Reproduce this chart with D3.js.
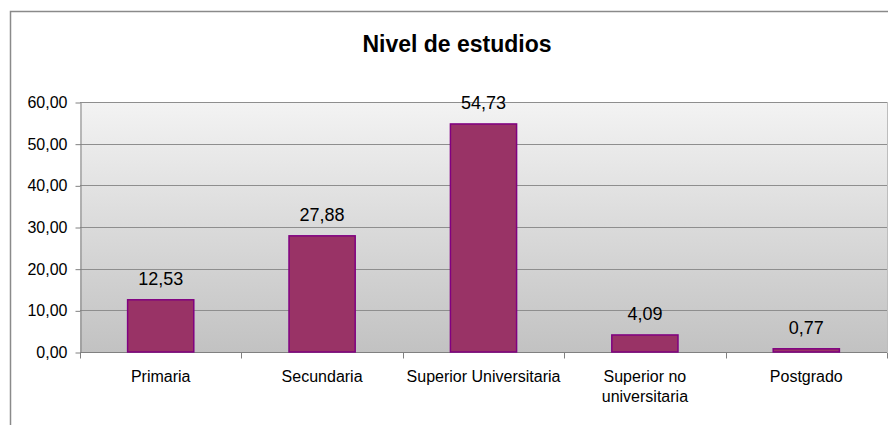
<!DOCTYPE html>
<html><head><meta charset="utf-8">
<script src="https://cdn.jsdelivr.net/npm/d3@7"></script>
<style>body{margin:0;background:#fff}svg{display:block;font-family:"Liberation Sans",Arial,sans-serif}</style>
</head><body>
<svg id="c" width="888" height="425"></svg>
<script>
const categories = [["Primaria"], ["Secundaria"], ["Superior Universitaria"], ["Superior no", "universitaria"], ["Postgrado"]];
const values = [12.53, 27.88, 54.73, 4.09, 0.77];
const yTicks = [0, 10, 20, 30, 40, 50, 60];
const title = "Nivel de estudios";

const svg = d3.select("#c");
const fmt = v => d3.format(".2f")(v).replace(".", ",");
const L = 80, R = 887, T = 102, B = 352;

// outer border
svg.append("rect").attr("x", 10.5).attr("y", 11.5).attr("width", 900).attr("height", 500)
  .attr("fill", "#fff").attr("stroke", "#8a8a8a").attr("stroke-width", 1.5);

const defs = svg.append("defs");
const g = defs.append("linearGradient").attr("id", "bg").attr("x1", 0).attr("y1", 0).attr("x2", 0).attr("y2", 1);
g.append("stop").attr("offset", "0%").attr("stop-color", "#f3f3f3");
g.append("stop").attr("offset", "100%").attr("stop-color", "#c2c2c2");

const x = d3.scaleBand().domain(d3.range(categories.length)).range([L, R]).paddingInner(0).paddingOuter(0);
const y = d3.scaleLinear().domain([0, 60]).range([B, T]);

svg.append("rect").attr("x", L).attr("y", T).attr("width", R - L).attr("height", B - T).attr("fill", "url(#bg)");
svg.append("line").attr("x1", R + 0.5).attr("x2", R + 0.5).attr("y1", T).attr("y2", B).attr("stroke", "#bdbdbd");

// gridlines
svg.append("g").selectAll("line").data(yTicks.filter(d => d > 0)).join("line")
  .attr("x1", L).attr("x2", R).attr("y1", d => Math.round(y(d)) + 0.5).attr("y2", d => Math.round(y(d)) + 0.5)
  .attr("stroke", "#8e8e8e").attr("stroke-width", 1);

// y axis
const yAxis = d3.axisLeft(y).tickValues(yTicks).tickFormat(fmt).tickSize(5).tickSizeOuter(0);
const ya = svg.append("g").attr("transform", `translate(${L + 0.5},0.5)`).call(yAxis);
ya.select(".domain").attr("stroke", "#808080");
ya.selectAll(".tick line").attr("stroke", "#808080");
ya.selectAll(".tick text").attr("font-size", 16).attr("fill", "#000").attr("font-family", "Liberation Sans, Arial, sans-serif").attr("x", -13);

// x axis
const xa = svg.append("g").attr("transform", `translate(0,${B + 0.5})`);
xa.append("line").attr("x1", L).attr("x2", R).attr("stroke", "#808080");
xa.selectAll(".tk").data(d3.range(categories.length + 1)).join("line")
  .attr("x1", i => Math.round(L + i * x.bandwidth()) + 0.5).attr("x2", i => Math.round(L + i * x.bandwidth()) + 0.5)
  .attr("y1", 0).attr("y2", 6).attr("stroke", "#808080");

// bars
const bw = x.bandwidth() * 0.41;
svg.append("g").selectAll("rect").data(values).join("rect")
  .attr("x", (d, i) => x(i) + x.bandwidth() / 2 - bw / 2)
  .attr("y", d => y(d))
  .attr("width", bw)
  .attr("height", d => B - y(d))
  .attr("fill", "#993366").attr("stroke", "#800080").attr("stroke-width", 1.5);

// value labels
svg.append("g").selectAll("text").data(values).join("text")
  .attr("x", (d, i) => x(i) + x.bandwidth() / 2)
  .attr("y", d => y(d) - 15)
  .attr("text-anchor", "middle").attr("font-size", 18).attr("fill", "#000")
  .text(fmt);

// category labels
const cl = svg.append("g").selectAll("text").data(categories).join("text")
  .attr("x", (d, i) => x(i) + x.bandwidth() / 2)
  .attr("y", 382)
  .attr("text-anchor", "middle").attr("font-size", 16).attr("fill", "#000");
cl.selectAll("tspan").data(d => d).join("tspan")
  .attr("x", function () { return this.parentNode.getAttribute("x"); })
  .attr("dy", (d, i) => i === 0 ? 0 : 20)
  .text(d => d);

// title
svg.append("text").attr("x", 457).attr("y", 52).attr("text-anchor", "middle")
  .attr("font-size", 23).attr("font-weight", "bold").attr("fill", "#000").text(title);
</script>
</body></html>
